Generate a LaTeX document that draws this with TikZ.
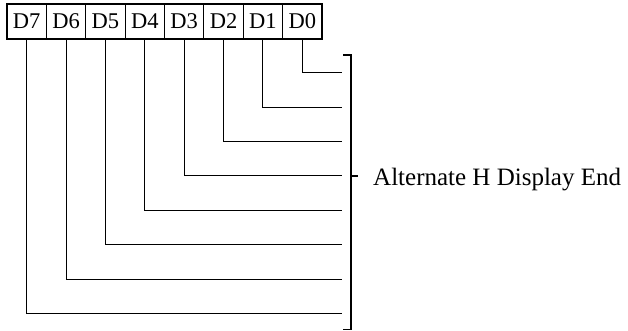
\documentclass[tikz,border=0pt]{standalone}
\usepackage{fontspec}
\setmainfont{Liberation Serif}
\begin{document}
\begin{tikzpicture}[x=1pt,y=-1pt,
  cell/.style={draw,line width=1.1pt,minimum width=39.375pt,minimum height=35pt,inner sep=0pt,font=\fontsize{22.5}{22.5}\selectfont},
  wire/.style={line width=1.1pt}]
\useasboundingbox (0,0) rectangle (628,331);
\foreach \n [count=\i from 0] in {7,6,5,4,3,2,1,0}{
  \node[cell] (d\n) at ({7+39.375*(\i+0.5)},21.5) {D\n};
}
\foreach \k in {0,...,7}{
  \coordinate (e\k) at (342,{72.7+34.4*\k});
  \draw[wire] (d\k.south) |- (e\k);
}
\coordinate (bt) at (351,55);
\coordinate (bb) at (351,329.5);
\coordinate (btl) at (343,55);
\coordinate (bbl) at (343,329.5);
\coordinate (bm) at (351,176);
\coordinate (bmr) at (358,176);
\draw[wire] (btl) -- (bt) -- (bb) -- (bbl);
\draw[wire] (bm) -- (bmr);
\node[anchor=base west,inner sep=0pt,font=\fontsize{25}{25}\selectfont] (lbl) at (373,185) {Alternate H Display End};
\end{tikzpicture}
\end{document}
